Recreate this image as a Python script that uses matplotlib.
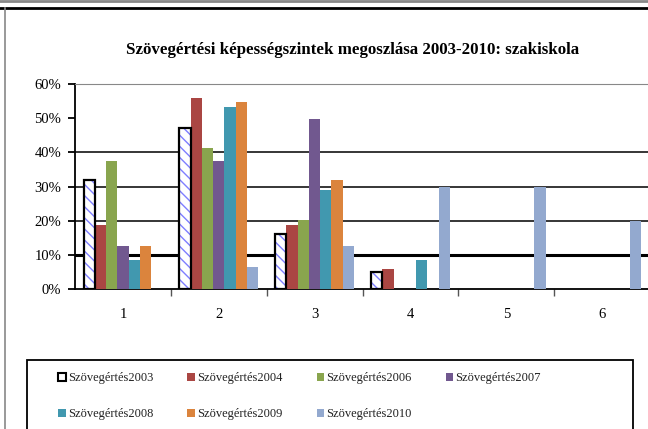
import matplotlib.pyplot as plt
import numpy as np
from matplotlib.patches import Rectangle, Patch
from matplotlib.lines import Line2D

# data (percent)
categories = ['1', '2', '3', '4', '5', '6']
series = ['Szövegértés2003', 'Szövegértés2004', 'Szövegértés2006', 'Szövegértés2007',
          'Szövegértés2008', 'Szövegértés2009', 'Szövegértés2010']
v2003 = [32, 47, 16, 5, 0, 0]
v2004 = [18.75, 56, 18.75, 6, 0, 0]
v2006 = [37.5, 41.2, 20.2, 0, 0, 0]
v2007 = [12.5, 37.5, 49.7, 0, 0, 0]
v2008 = [8.5, 53.2, 29, 8.5, 0, 0]
v2009 = [12.5, 54.7, 32, 0, 0, 0]
v2010 = [0, 6.4, 12.6, 30, 30, 20]
values = [v2003, v2004, v2006, v2007, v2008, v2009, v2010]
colors = ['white', '#AA4643', '#89A54E', '#71588F', '#4198AF', '#DB843D', '#93A9CF']

plt.rcParams['font.family'] = 'Liberation Serif'

fig = plt.figure(figsize=(6.48, 4.29), dpi=100)
W, H = 648, 429
ax = fig.add_axes([75 / W, 1 - 289 / H, (650 - 75) / W, (289 - 84) / H])

x = np.arange(len(categories))
w = 0.1175
for i, vals in enumerate(values):
    vals = np.array(vals, dtype=float)
    pos = x + (i - 3) * w
    keep = vals > 0
    if i == 0:
        # hatched white bar with black outline
        ax.bar(pos[keep], vals[keep], w, color='white', edgecolor='#7f7fff',
               hatch='\\\\\\', linewidth=0, zorder=3)
        ax.bar(pos[keep], vals[keep], w, color='none', edgecolor='black',
               linewidth=1.6, zorder=4)
    else:
        ax.bar(pos[keep], vals[keep], w, color=colors[i], linewidth=0, zorder=3)

# grid lines
for g in [10, 20, 30, 40]:
    ax.axhline(g, color='black', linewidth=2.2 if g == 10 else 1.1, zorder=1)

ax.set_xlim(-0.5, len(categories) - 0.5)
ax.set_ylim(0, 60)
ax.set_yticks(range(0, 61, 10))
ax.set_yticklabels([f'{t}%' for t in range(0, 61, 10)], fontsize=10.5)
ax.set_xticks(x)
ax.set_xticklabels(categories, fontsize=10.5)
ax.set_xticks(np.arange(0.5, len(categories) - 0.5, 1), minor=True)
ax.tick_params(axis='x', which='major', length=0, pad=14)
ax.tick_params(axis='x', which='minor', length=5, width=1, color='#555555')
ax.tick_params(axis='y', length=5, width=1.3, pad=5)

ax.spines['top'].set_color('#888888')
ax.spines['right'].set_visible(False)
ax.spines['left'].set_linewidth(1.3)
ax.spines['bottom'].set_linewidth(1.3)

fig.suptitle('Szövegértési képességszintek megoszlása 2003-2010: szakiskola',
             x=353 / W, y=1 - 50 / H, va='center', fontsize=12.2, fontweight='bold')

# outer frame bits
fig.add_artist(Line2D([0, 1], [1 - 1 / H, 1 - 1 / H], color='#888888', linewidth=2,
                      transform=fig.transFigure))
fig.add_artist(Line2D([0, 1], [1 - 8 / H, 1 - 8 / H], color='black', linewidth=2,
                      transform=fig.transFigure))
fig.add_artist(Line2D([5 / W, 5 / W], [0, 1 - 8 / H], color='#888888', linewidth=1.2,
                      transform=fig.transFigure))

# legend box
fig.add_artist(Rectangle((27 / W, -0.05), (633 - 27) / W, 0.05 + 1 - 360 / H,
                         transform=fig.transFigure, facecolor='none',
                         edgecolor='black', linewidth=1.3))
handles = [Patch(facecolor='white', edgecolor='black', linewidth=1.5)]
handles += [Patch(facecolor=c, edgecolor='none') for c in colors[1:]]
# legend fills column by column, so reorder to read row by row
order = [0, 4, 1, 5, 2, 6, 3]
leg = fig.legend([handles[k] for k in order], [series[k] for k in order],
                 loc='upper left', bbox_to_anchor=(47 / W, 1 - 361 / H),
                 ncol=4, frameon=False, fontsize=9, handlelength=0.6, handleheight=0.6,
                 handletextpad=0.2, columnspacing=2.7, labelspacing=1.9)
for t in leg.get_texts():
    t.set_color('#222222')

fig.savefig('out.png', dpi=100)
